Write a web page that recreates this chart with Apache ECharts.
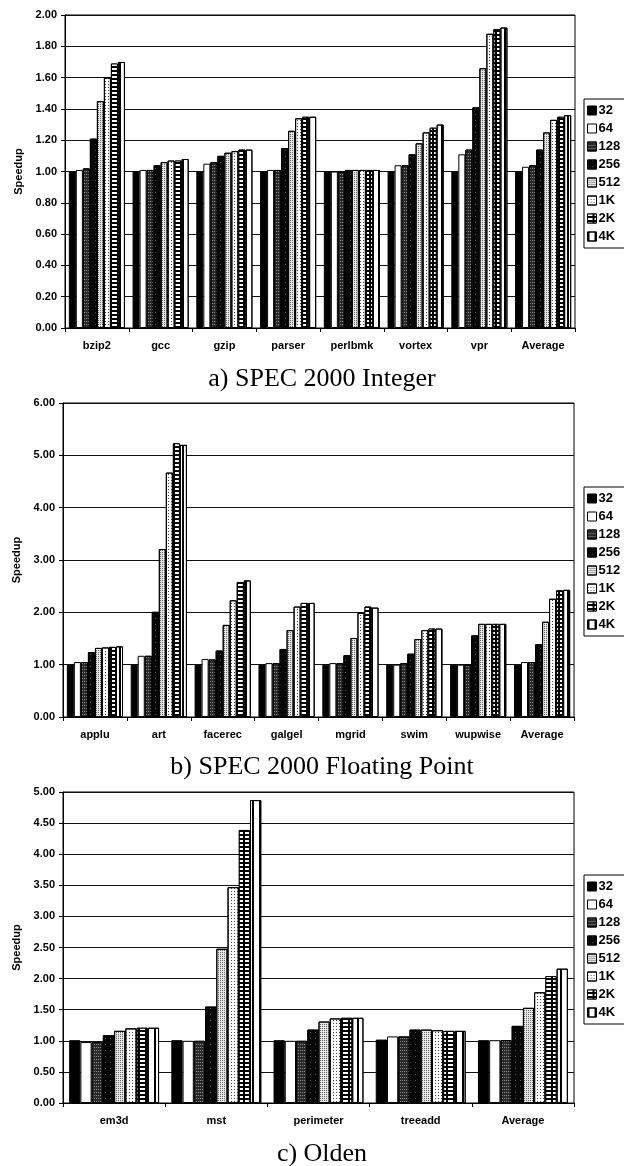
<!DOCTYPE html>
<html>
<head>
<meta charset="utf-8">
<script src="https://cdn.jsdelivr.net/npm/echarts@6/dist/echarts.min.js"></script>
<style>
html,body{margin:0;padding:0;background:#fff;}
#c{width:624px;height:1166px;}
</style>
</head>
<body>
<div id="c"></div>
<script>
// ---- data ----
var seriesNames = ['32', '64', '128', '256', '512', '1K', '2K', '4K'];

var intCategories = ['bzip2', 'gcc', 'gzip', 'parser', 'perlbmk', 'vortex', 'vpr', 'Average'];
var int32  = [1.00, 1.00, 1.00, 1.00, 1.00, 1.00, 1.00, 1.00];
var int64  = [1.01, 1.01, 1.05, 1.01, 1.00, 1.04, 1.11, 1.03];
var int128 = [1.02, 1.01, 1.06, 1.01, 1.00, 1.04, 1.14, 1.04];
var int256 = [1.21, 1.04, 1.10, 1.15, 1.01, 1.11, 1.41, 1.14];
var int512 = [1.45, 1.06, 1.12, 1.26, 1.01, 1.18, 1.66, 1.25];
var int1K  = [1.60, 1.07, 1.13, 1.34, 1.01, 1.25, 1.88, 1.33];
var int2K  = [1.69, 1.07, 1.14, 1.35, 1.01, 1.28, 1.91, 1.35];
var int4K  = [1.70, 1.08, 1.14, 1.35, 1.01, 1.30, 1.92, 1.36];
var intTicks = [0, 2, 0.2];

var fpCategories = ['applu', 'art', 'facerec', 'galgel', 'mgrid', 'swim', 'wupwise', 'Average'];
var fp32  = [1.00, 1.00, 1.00, 1.00, 1.00, 1.00, 1.00, 1.00];
var fp64  = [1.05, 1.17, 1.11, 1.03, 1.03, 1.00, 1.00, 1.05];
var fp128 = [1.05, 1.17, 1.10, 1.03, 1.03, 1.03, 1.00, 1.05];
var fp256 = [1.24, 2.01, 1.27, 1.30, 1.18, 1.21, 1.56, 1.39];
var fp512 = [1.32, 3.21, 1.76, 1.66, 1.51, 1.49, 1.78, 1.82];
var fp1K  = [1.33, 4.67, 2.23, 2.11, 1.99, 1.66, 1.78, 2.26];
var fp2K  = [1.34, 5.23, 2.58, 2.18, 2.11, 1.69, 1.78, 2.42];
var fp4K  = [1.35, 5.20, 2.61, 2.18, 2.09, 1.69, 1.78, 2.43];
var fpTicks = [0, 6, 1];

var oldenCategories = ['em3d', 'mst', 'perimeter', 'treeadd', 'Average'];
var ol32  = [1.01, 1.01, 1.01, 1.02, 1.01];
var ol64  = [0.98, 1.00, 1.00, 1.07, 1.01];
var ol128 = [0.98, 1.00, 1.00, 1.07, 1.01];
var ol256 = [1.09, 1.55, 1.18, 1.18, 1.24];
var ol512 = [1.16, 2.48, 1.31, 1.18, 1.53];
var ol1K  = [1.20, 3.47, 1.36, 1.17, 1.78];
var ol2K  = [1.21, 4.39, 1.37, 1.16, 2.04];
var ol4K  = [1.21, 4.87, 1.37, 1.16, 2.16];
var olTicks = [0, 5, 0.5];

var chartTitles = ['a) SPEC 2000 Integer', 'b) SPEC 2000 Floating Point', 'c) Olden'];
var yName = 'Speedup';

// ---- styles ----
var styles = [
  {color: '#000'},
  {color: '#fff'},
  {color: '#2a2a2a', decal: {symbol: 'rect', symbolSize: 1, dashArrayX: [1, 1], dashArrayY: [1, 2], color: '#8a8a8a'}},
  {color: '#080808', decal: {symbol: 'rect', symbolSize: 1, dashArrayX: [1, 4], dashArrayY: [1, 5], color: '#555'}},
  {color: '#e6e6e6', decal: {symbol: 'rect', symbolSize: 1, dashArrayX: [1, 1], dashArrayY: [1, 1], color: '#666'}},
  {color: '#fff', decal: {symbol: 'rect', symbolSize: 1, dashArrayX: [1, 2], dashArrayY: [1, 2], color: '#444'}},
  {color: '#000', decal: {symbol: 'rect', symbolSize: 1, dashArrayX: [5, 2], dashArrayY: [2, 2], color: '#fff'}},
  {color: '#fff', decal: {symbol: 'rect', symbolSize: 1, dashArrayX: [2, 5], dashArrayY: [1, 0], color: '#000'}}
];

var groups = [
  {cats: intCategories, data: [int32, int64, int128, int256, int512, int1K, int2K, int4K], ticks: intTicks,
   grid: {left: 65, right: 49, top: 15, height: 313}, legendTop: 99, titleY: 361, nameX: 29},
  {cats: fpCategories, data: [fp32, fp64, fp128, fp256, fp512, fp1K, fp2K, fp4K], ticks: fpTicks,
   grid: {left: 63, right: 50, top: 403, height: 314}, legendTop: 487, titleY: 749, nameX: 27},
  {cats: oldenCategories, data: [ol32, ol64, ol128, ol256, ol512, ol1K, ol2K, ol4K], ticks: olTicks,
   grid: {left: 63, right: 50, top: 792, height: 311}, legendTop: 875, titleY: 1136, nameX: 27}
];

var fontSans = 'Liberation Sans, Arial, sans-serif';
var option = {
  animation: false,
  backgroundColor: '#fff',
  grid: [], xAxis: [], yAxis: [], series: [], legend: [], title: []
};

groups.forEach(function (g, gi) {
  option.grid.push(Object.assign({show: true, borderColor: '#000', borderWidth: 1, backgroundColor: 'transparent'}, g.grid));
  option.xAxis.push({
    type: 'category', gridIndex: gi, data: g.cats,
    axisLine: {lineStyle: {color: '#000', width: 1}},
    axisTick: {show: true, length: 4, lineStyle: {color: '#000'}},
    axisLabel: {color: '#000', fontFamily: fontSans, fontSize: 11, fontWeight: 'bold', margin: 12}
  });
  option.yAxis.push({
    type: 'value', gridIndex: gi, min: g.ticks[0], max: g.ticks[1], interval: g.ticks[2],
    name: yName, nameLocation: 'middle', nameGap: g.grid.left - g.nameX,
    nameTextStyle: {color: '#000', fontFamily: fontSans, fontSize: 11, fontWeight: 'bold'},
    axisLine: {show: true, lineStyle: {color: '#000', width: 1}},
    axisTick: {show: true, length: 4, lineStyle: {color: '#000'}},
    axisLabel: {color: '#000', fontFamily: fontSans, fontSize: 11, fontWeight: 'bold', margin: 8,
      formatter: function (v) { return v.toFixed(2); }},
    splitLine: {show: true, lineStyle: {color: '#111', width: 1}}
  });
  seriesNames.forEach(function (name, si) {
    option.series.push({
      type: 'bar', name: name, xAxisIndex: gi, yAxisIndex: gi,
      data: g.data[si],
      barGap: '0%', barCategoryGap: '12%',
      itemStyle: Object.assign({borderColor: '#000', borderWidth: 1}, styles[si])
    });
  });
  option.legend.push({
    orient: 'vertical', left: 584, top: g.legendTop,
    data: seriesNames, icon: 'rect', itemWidth: 9, itemHeight: 9, itemGap: 5,
    padding: [5, 30, 5, 3], borderColor: '#000', borderWidth: 1,
    selectedMode: false,
    itemStyle: {borderColor: '#000', borderWidth: 1},
    textStyle: {color: '#000', fontFamily: fontSans, fontSize: 13, lineHeight: 13, fontWeight: 'bold', padding: [0, 0, 0, -3]}
  });
  option.title.push({
    text: chartTitles[gi], left: 317, top: g.titleY, textAlign: 'center',
    textStyle: {color: '#000', fontFamily: 'Liberation Serif, Times New Roman, serif', fontSize: 26, fontWeight: 'normal'}
  });
});

var chart = echarts.init(document.getElementById('c'), null, {renderer: 'canvas'});
chart.setOption(option);
</script>
</body>
</html>
